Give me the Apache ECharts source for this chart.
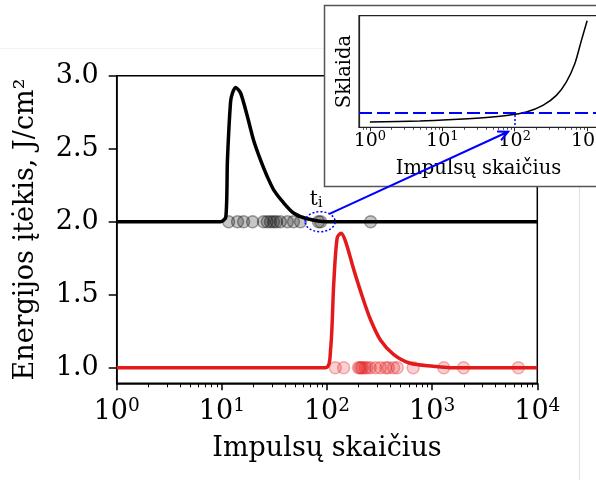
<!DOCTYPE html>
<html>
<head>
<meta charset="utf-8">
<script src="https://cdn.jsdelivr.net/npm/echarts@6/dist/echarts.min.js"></script>
<style>
html, body {margin: 0; padding: 0; background: #fff;}
#chart {width: 596px; height: 480px;}
</style>
</head>
<body>
<div id="chart"></div>
<script>
// pagrindinis grafikas
const blackX = [1, 9.7, 10.9, 11.3, 12.1, 12.6, 13.5, 15.1, 17.5, 20.0, 23.4, 27.0, 31.0, 38.6, 48, 65, 100, 10000];
const blackY = [2.0, 2.0, 2.03, 2.42, 2.82, 2.88, 2.92, 2.88, 2.72, 2.56, 2.42, 2.31, 2.22, 2.13, 2.06, 2.02, 2.0, 2.0];
const redX = [1, 96.8, 108, 116, 125, 136, 150, 180, 216, 259, 322, 432, 621, 1028, 1480, 10000];
const redY = [1.0, 1.0, 1.12, 1.58, 1.89, 1.92, 1.865, 1.67, 1.49, 1.33, 1.19, 1.09, 1.03, 1.01, 1.0, 1.0];
const blackDotsX = [11.6, 14.1, 16.1, 19.6, 24.9, 27, 29, 31, 33, 36, 42, 48, 56, 83, 87, 260];
const redDotsX = [120, 144, 199, 205, 212, 218, 230, 241, 258, 290, 322, 362, 383, 430, 466, 660, 1290, 1990, 6600];
const yTicks = [1.0, 1.5, 2.0, 2.5, 3.0];
const xTicks = [1, 10, 100, 1000, 10000];
const xMinor = [2, 3, 4, 5, 6, 7, 8, 9, 20, 30, 40, 50, 60, 70, 80, 90,
    200, 300, 400, 500, 600, 700, 800, 900, 2000, 3000, 4000, 5000, 6000, 7000, 8000, 9000];

// intarpas
const insetX = [1, 4.9, 14, 40.6, 77, 145, 245, 376, 515, 675, 832, 1000];
const insetY = [0.047, 0.056, 0.069, 0.087, 0.105, 0.137, 0.196, 0.286, 0.405, 0.569, 0.777, 0.955];
const insetLimit = 0.131;
const insetTicks = [1, 10, 100, 1000];
const insetMinor = [0.8, 0.9, 2, 3, 4, 5, 6, 7, 8, 9, 20, 30, 40, 50, 60, 70, 80, 90,
    200, 300, 400, 500, 600, 700, 800, 900];
const tI = 100;
const tiX = 86;
const arrowEnd = [81, -0.04];

const font = 'DejaVu Serif';

function zip(xs, ys) {
    return xs.map((x, i) => [x, ys[i]]);
}

function powLabel(v) {
    let e = Math.round(Math.log10(v));
    return '{b|10}{s|' + e + '}';
}

let dom = document.getElementById("chart");
let myChart = echarts.init(dom, null, {renderer: 'canvas'});

const option = {
    animation: false,
    textStyle: {fontFamily: font, color: '#000'},
    grid: [
        {left: 116.7, right: 58.7, top: 75.7, bottom: 96.7, show: true, borderColor: '#000', borderWidth: 1.5,
            containLabel: false, outerBoundsMode: 'none'},
        {left: 359, width: 239, top: 15.7, height: 111.6, show: true, borderColor: '#222', borderWidth: 1.2, z: 55,
            containLabel: false, outerBoundsMode: 'none'}
    ],
    xAxis: [
        {
            type: 'log', logBase: 10, min: 1, max: 10000, gridIndex: 0, position: 'bottom',
            name: 'Impulsų skaičius', nameLocation: 'middle', nameGap: 50,
            nameTextStyle: {fontFamily: font, fontSize: 27, lineHeight: 32, color: '#000'},
            axisLine: {lineStyle: {color: '#000', width: 1.5}},
            axisTick: {customValues: xTicks, length: 7, lineStyle: {color: '#000', width: 1.5}},
            axisLabel: {
                customValues: xTicks, margin: 13, formatter: powLabel,
                rich: {
                    b: {fontFamily: font, fontSize: 27, lineHeight: 32, color: '#000'},
                    s: {fontFamily: font, fontSize: 18.5, lineHeight: 19, color: '#000', verticalAlign: 'top'}
                }
            },
            splitLine: {show: false}
        },
        {
            type: 'log', logBase: 10, min: 1, max: 10000, gridIndex: 0, position: 'bottom',
            axisLine: {show: false},
            axisTick: {customValues: xMinor, length: 4, lineStyle: {color: '#000', width: 1}},
            axisLabel: {show: false},
            splitLine: {show: false}
        },
        {
            type: 'log', logBase: 10, min: Math.pow(10, -0.15), max: Math.pow(10, 3.15), gridIndex: 1, z: 60,
            position: 'bottom',
            name: 'Impulsų skaičius', nameLocation: 'middle', nameGap: 31,
            nameTextStyle: {fontFamily: font, fontSize: 19.5, lineHeight: 22, color: '#000'},
            axisLine: {lineStyle: {color: '#222', width: 1.2}},
            axisTick: {customValues: insetTicks, length: 4, lineStyle: {color: '#222', width: 1}},
            axisLabel: {
                customValues: insetTicks, margin: 3, formatter: powLabel,
                rich: {
                    b: {fontFamily: font, fontSize: 19, lineHeight: 22, color: '#000'},
                    s: {fontFamily: font, fontSize: 13, lineHeight: 14, color: '#000', verticalAlign: 'top'}
                }
            },
            splitLine: {show: false}
        },
        {
            type: 'log', logBase: 10, min: Math.pow(10, -0.15), max: Math.pow(10, 3.15), gridIndex: 1, z: 60,
            position: 'bottom',
            axisLine: {show: false},
            axisTick: {customValues: insetMinor, length: 2.5, lineStyle: {color: '#222', width: 0.8}},
            axisLabel: {show: false},
            splitLine: {show: false}
        }
    ],
    yAxis: [
        {
            type: 'value', min: 0.893, max: 3.0, gridIndex: 0,
            name: 'Energijos įtėkis, J/cm²', nameLocation: 'middle', nameGap: 75,
            nameTextStyle: {fontFamily: font, fontSize: 27, lineHeight: 32, color: '#000'},
            axisLine: {lineStyle: {color: '#000', width: 1.5}},
            axisTick: {customValues: yTicks, length: 8, lineStyle: {color: '#000', width: 1.5}},
            axisLabel: {
                customValues: yTicks, margin: 18, fontFamily: font, fontSize: 27, color: '#000',
                formatter: v => v.toFixed(1)
            },
            splitLine: {show: false}
        },
        {
            type: 'value', min: 0, max: 1, gridIndex: 1, z: 60,
            name: 'Sklaida', nameLocation: 'middle', nameGap: 3,
            nameTextStyle: {fontFamily: font, fontSize: 19.5, lineHeight: 22, color: '#000'},
            axisLine: {lineStyle: {color: '#222', width: 1.2}},
            axisTick: {show: false},
            axisLabel: {show: false},
            splitLine: {show: false}
        }
    ],
    series: [
        {
            type: 'scatter', xAxisIndex: 0, yAxisIndex: 0, z: 2,
            data: blackDotsX.map(x => [x, 2.0]), symbolSize: 12,
            itemStyle: {color: 'rgba(0,0,0,0.28)', borderColor: 'rgba(0,0,0,0.45)', borderWidth: 1.5}
        },
        {
            type: 'scatter', xAxisIndex: 0, yAxisIndex: 0, z: 2,
            data: redDotsX.map(x => [x, 1.0]), symbolSize: 12,
            itemStyle: {color: 'rgba(227,26,28,0.25)', borderColor: 'rgba(227,26,28,0.42)', borderWidth: 1.5}
        },
        {
            type: 'line', xAxisIndex: 0, yAxisIndex: 0, z: 3,
            data: zip(blackX, blackY), showSymbol: false, symbol: 'none', smooth: 0.25,
            lineStyle: {color: '#000', width: 3.5}
        },
        {
            type: 'line', xAxisIndex: 0, yAxisIndex: 0, z: 3,
            data: zip(redX, redY), showSymbol: false, symbol: 'none', smooth: 0.3,
            lineStyle: {color: '#e31a1c', width: 3.5}
        },
        {
            type: 'line', xAxisIndex: 2, yAxisIndex: 1, z: 60,
            data: zip(insetX, insetY), showSymbol: false, symbol: 'none', smooth: 0.3,
            lineStyle: {color: '#000', width: 1.5},
            markLine: {
                silent: true, z: 61, symbol: ['none', 'none'], label: {show: false},
                data: [
                    {yAxis: insetLimit, lineStyle: {color: '#0000ff', width: 2, type: [13, 5]}},
                    [
                        {coord: [tI, 0.11], lineStyle: {color: '#0000ff', width: 1.5, type: [2, 2]}},
                        {coord: [tI, 0]}
                    ]
                ]
            }
        }
    ]
};
myChart.setOption(option, true);

// rodyklė ir apskritimas aplink t_i
let c = myChart.convertToPixel({xAxisIndex: 0, yAxisIndex: 0}, [tiX, 2.0]);
let tip = myChart.convertToPixel({xAxisIndex: 2, yAxisIndex: 1}, arrowEnd);
let s = [c[0] + 15 * Math.cos(-0.9), c[1] + 10 * Math.sin(-0.9)];
let dx = tip[0] - s[0], dy = tip[1] - s[1];
let len = Math.sqrt(dx * dx + dy * dy);
dx /= len; dy /= len;
function arm(a) {
    let rx = dx * Math.cos(a) - dy * Math.sin(a);
    let ry = dx * Math.sin(a) + dy * Math.cos(a);
    return [tip[0] - 11 * rx, tip[1] - 11 * ry];
}

myChart.setOption({
    graphic: [
        {type: 'line', z: 1, shape: {x1: 0, y1: 48.5, x2: 324, y2: 48.5}, style: {stroke: '#f2f2f2', lineWidth: 1}},
        {type: 'line', z: 1, shape: {x1: 579.5, y1: 187, x2: 579.5, y2: 480}, style: {stroke: '#e2e2e2', lineWidth: 1}},
        {type: 'rect', z: 50, shape: {x: 324.5, y: 5.5, width: 300, height: 181},
            style: {fill: '#fff', stroke: '#555', lineWidth: 1.5}},
        {type: 'ellipse', z: 20, shape: {cx: c[0], cy: c[1], rx: 15, ry: 10},
            style: {fill: 'none', stroke: '#0000ff', lineWidth: 1.5, lineDash: [2, 2]}},
        {type: 'text', z: 20, x: c[0] - 4, y: c[1] - 33,
            style: {
                text: '{t|t}{i|i}', align: 'center', verticalAlign: 'top',
                rich: {
                    t: {fontFamily: font, fontSize: 20, lineHeight: 22, fill: '#000'},
                    i: {fontFamily: font, fontSize: 14, lineHeight: 8, fill: '#000', verticalAlign: 'bottom'}
                }
            }},
        {type: 'line', z: 70, shape: {x1: s[0], y1: s[1], x2: tip[0], y2: tip[1]},
            style: {stroke: '#0000ff', lineWidth: 2}},
        {type: 'polyline', z: 70, shape: {points: [arm(0.45), tip, arm(-0.45)]},
            style: {stroke: '#0000ff', lineWidth: 2, fill: 'none'}}
    ]
});
</script>
</body>
</html>
